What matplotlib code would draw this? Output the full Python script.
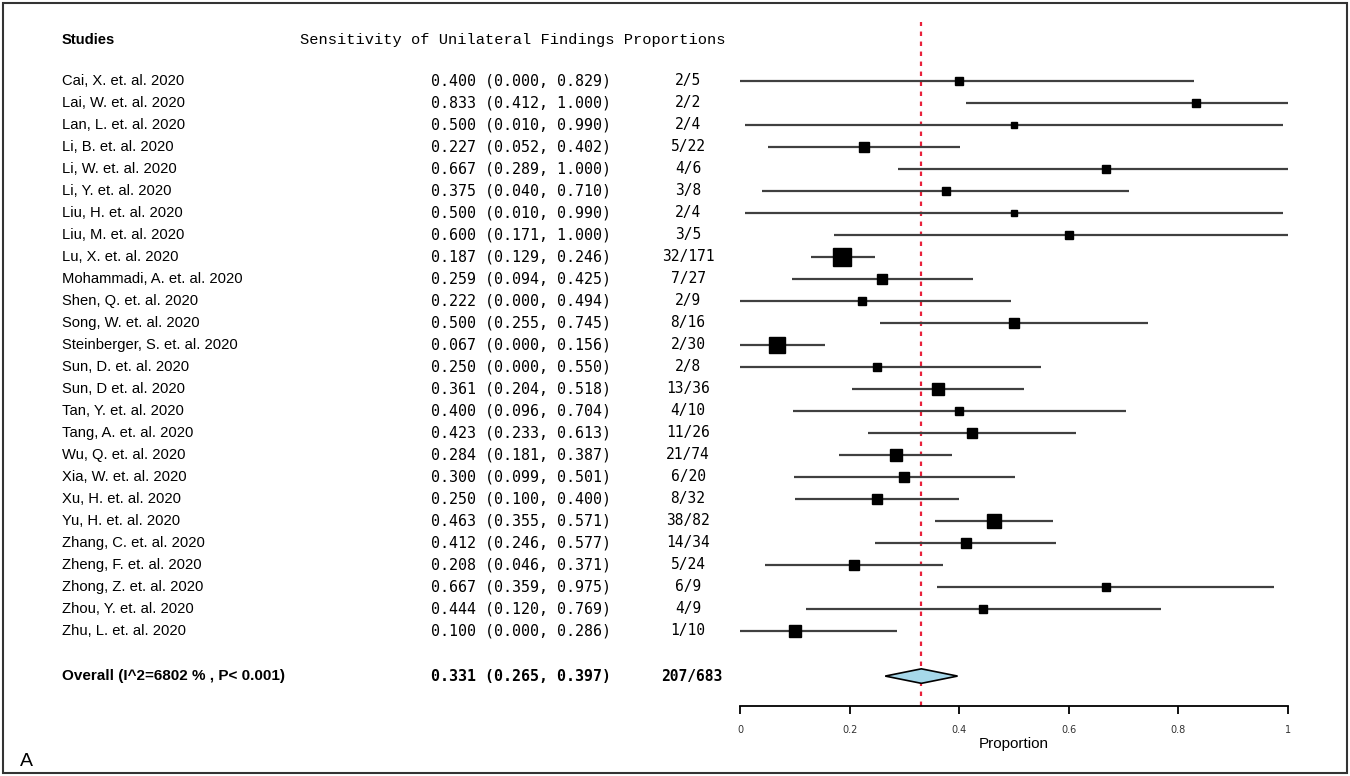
import matplotlib
matplotlib.use("Agg")
import matplotlib.pyplot as plt
from matplotlib.patches import Polygon, Rectangle
from matplotlib.transforms import blended_transform_factory

studies = ["Cai, X. et. al. 2020", "Lai, W. et. al. 2020", "Lan, L. et. al. 2020",
           "Li, B. et. al. 2020", "Li, W. et. al. 2020", "Li, Y. et. al. 2020",
           "Liu, H. et. al. 2020", "Liu, M. et. al. 2020", "Lu, X. et. al. 2020",
           "Mohammadi, A. et. al. 2020", "Shen, Q. et. al. 2020", "Song, W. et. al. 2020",
           "Steinberger, S. et. al. 2020", "Sun, D. et. al. 2020", "Sun, D et. al. 2020",
           "Tan, Y. et. al. 2020", "Tang, A. et. al. 2020", "Wu, Q. et. al. 2020",
           "Xia, W. et. al. 2020", "Xu, H. et. al. 2020", "Yu, H. et. al. 2020",
           "Zhang, C. et. al. 2020", "Zheng, F. et. al. 2020", "Zhong, Z. et. al. 2020",
           "Zhou, Y. et. al. 2020", "Zhu, L. et. al. 2020"]
est = [0.400, 0.833, 0.500, 0.227, 0.667, 0.375, 0.500, 0.600, 0.187, 0.259, 0.222, 0.500,
       0.067, 0.250, 0.361, 0.400, 0.423, 0.284, 0.300, 0.250, 0.463, 0.412, 0.208, 0.667,
       0.444, 0.100]
lower = [0.000, 0.412, 0.010, 0.052, 0.289, 0.040, 0.010, 0.171, 0.129, 0.094, 0.000, 0.255,
         0.000, 0.000, 0.204, 0.096, 0.233, 0.181, 0.099, 0.100, 0.355, 0.246, 0.046, 0.359,
         0.120, 0.000]
upper = [0.829, 1.000, 0.990, 0.402, 1.000, 0.710, 0.990, 1.000, 0.246, 0.425, 0.494, 0.745,
         0.156, 0.550, 0.518, 0.704, 0.613, 0.387, 0.501, 0.400, 0.571, 0.577, 0.371, 0.975,
         0.769, 0.286]
props = ["2/5", "2/2", "2/4", "5/22", "4/6", "3/8", "2/4", "3/5", "32/171", "7/27", "2/9",
         "8/16", "2/30", "2/8", "13/36", "4/10", "11/26", "21/74", "6/20", "8/32", "38/82",
         "14/34", "5/24", "6/9", "4/9", "1/10"]
# marker box widths (px)
box = [7, 8, 6, 10, 8, 7, 6, 7, 18, 10, 8, 9, 16, 8, 11, 7, 10, 12, 9, 10, 14, 10, 10, 7, 7, 11]
overall_est, overall_lo, overall_hi = 0.331, 0.265, 0.397
overall_label = "Overall (I^2=6802 % , P< 0.001)"
overall_prop = "207/683"
xticks = [0, 0.2, 0.4, 0.6, 0.8, 1]
xticklabels = ["0", "0.2", "0.4", "0.6", "0.8", "1"]

W, H = 1350, 776
fig = plt.figure(figsize=(W / 100, H / 100), dpi=100)
ax = fig.add_axes([740 / W, 1 - 706 / H, (1288 - 740) / W, (706 - 20) / H])

# row index -> y; pixel spacing 22 px per row, first row at 81 px
y_over = 27.05
ax.set_ylim(28.41, -2.77)
ax.set_xlim(0, 1)

for i in range(len(studies)):
    ax.plot([lower[i], upper[i]], [i, i], color="#404040", lw=1.6, solid_capstyle="butt", zorder=2)
    ax.plot(est[i], i, marker="s", color="black", ms=box[i] * 0.74, zorder=3)

dh = 0.33
ax.add_patch(Polygon([(overall_lo, y_over), (overall_est, y_over - dh), (overall_hi, y_over),
                      (overall_est, y_over + dh)], closed=True, facecolor="#a6d8ea",
                     edgecolor="black", lw=1.2, zorder=3))
ax.axvline(overall_est, ymin=0, ymax=0.997, color="#e8203a", lw=1.6, ls=(0, (2, 2.5)), zorder=1)

for s in ["top", "right", "left"]:
    ax.spines[s].set_visible(False)
ax.spines["bottom"].set_linewidth(1.3)
ax.set_yticks([])
ax.set_xticks(xticks)
ax.set_xticklabels(xticklabels, fontsize=7, color="#333333")
ax.tick_params(axis="x", length=6, width=1.3, pad=8)
ax.set_xlabel("Proportion", fontsize=11, labelpad=1, family="Liberation Sans")

tr = blended_transform_factory(fig.transFigure, ax.transData)
name_font = ["Liberation Sans Narrow", "Liberation Sans"]
for i in range(len(studies)):
    ax.text(62 / W, i, studies[i], transform=tr, ha="left", va="center", fontsize=10.6,
            family=name_font)
    ax.text(611 / W, i, "%.3f (%.3f, %.3f)" % (est[i], lower[i], upper[i]), transform=tr,
            ha="right", va="center", fontsize=10.8, family="DejaVu Sans Mono")
    ax.text(688 / W, i, props[i], transform=tr, ha="center", va="center", fontsize=10.5,
            family="DejaVu Sans Mono")

ax.text(62 / W, -1.86, "Studies", transform=tr, ha="left", va="center", fontsize=10.6,
        family=name_font, fontweight="bold")
ax.text(300 / W, -1.86, "Sensitivity of Unilateral Findings Proportions", transform=tr,
        ha="left", va="center", fontsize=11.1, family="Liberation Mono")
ax.text(62 / W, y_over, overall_label, transform=tr, ha="left", va="center", fontsize=11,
        family=name_font, fontweight="bold")
ax.text(611 / W, y_over, "%.3f (%.3f, %.3f)" % (overall_est, overall_lo, overall_hi),
        transform=tr, ha="right", va="center", fontsize=10.8, family="DejaVu Sans Mono",
        fontweight="bold")
ax.text(692 / W, y_over, overall_prop, transform=tr, ha="center", va="center", fontsize=10.5,
        family="DejaVu Sans Mono", fontweight="bold")

fig.text(20 / W, 1 - 766 / H, "A", fontsize=14, family="Liberation Sans", ha="left", va="baseline")
fig.patches.append(Rectangle((3 / W, 3 / H), (W - 6) / W, (H - 6) / H, transform=fig.transFigure,
                             fill=False, edgecolor="#333333", lw=1.5))

fig.savefig("out.png", dpi=100)
